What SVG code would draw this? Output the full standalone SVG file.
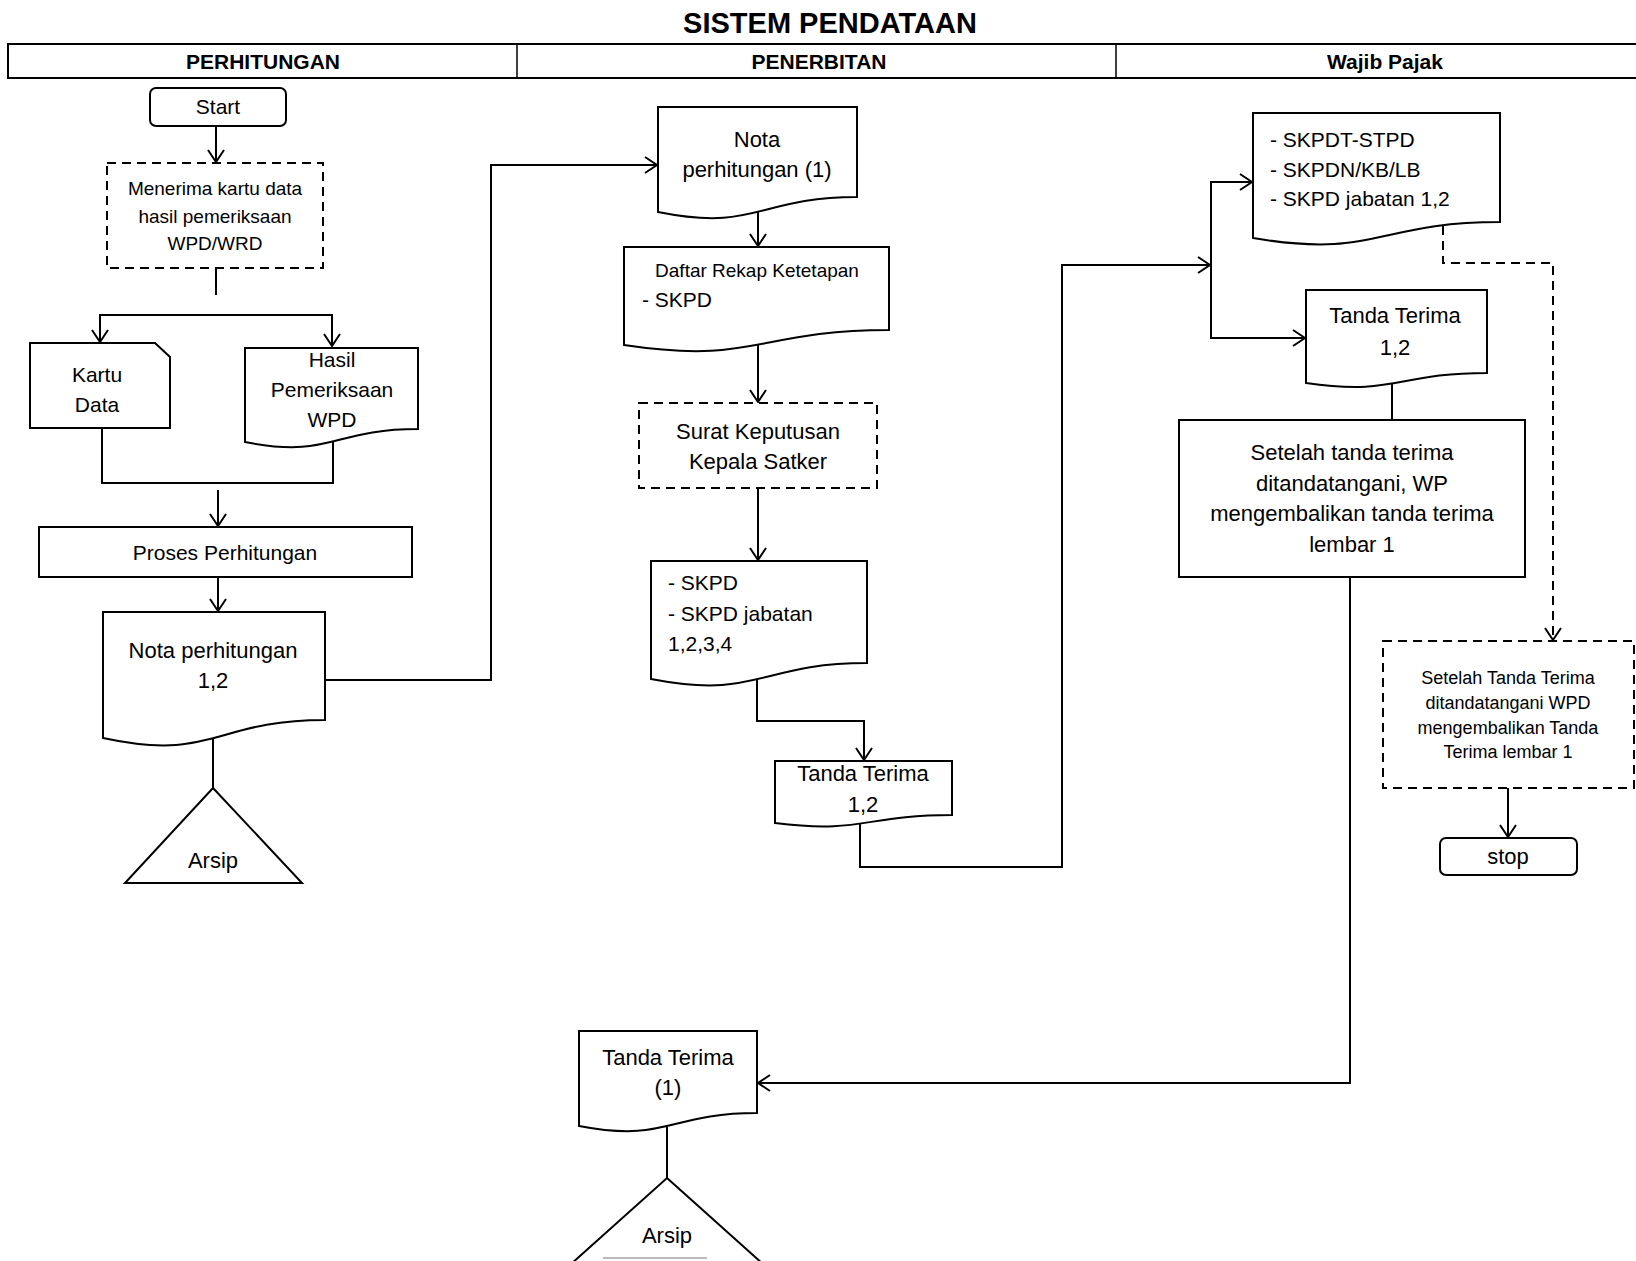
<svg xmlns="http://www.w3.org/2000/svg" width="1636" height="1261" viewBox="0 0 1636 1261">
  <style>
    .shape { fill: #fff; stroke: #000; stroke-width: 2; }
    .dash { fill: #fff; stroke: #000; stroke-width: 2; stroke-dasharray: 9 6; }
    .conn { fill: none; stroke: #000; stroke-width: 2; }
    .conn-d { fill: none; stroke: #000; stroke-width: 2; stroke-dasharray: 9 6; }
    text { font-family: "Liberation Sans", Arial, sans-serif; fill: #000; }
    .c { text-anchor: middle; }
    .title { font-size: 29px; font-weight: bold; }
    .hdr { font-size: 21px; font-weight: bold; }
    .t22 { font-size: 22px; }
    .t21 { font-size: 21px; }
    .t19 { font-size: 19px; }
    .t18 { font-size: 18px; }
  </style>
  <defs>
    <marker id="arr" markerUnits="userSpaceOnUse" markerWidth="16" markerHeight="20" viewBox="-14 -10 16 20" refX="0" refY="0" orient="auto">
      <path d="M-12,-8 L0,0 L-12,8" fill="none" stroke="#000" stroke-width="2"/>
    </marker>
  </defs>
  <rect width="1636" height="1261" fill="#fff"/>

  <!-- title and swimlane header -->
  <g id="header">
    <text class="title c" x="830" y="33">SISTEM PENDATAAN</text>
    <rect x="8" y="44" width="1640" height="34" fill="#fff" stroke="#000" stroke-width="2"/>
    <line x1="517" y1="44" x2="517" y2="78" stroke="#000" stroke-width="1.5"/>
    <line x1="1116" y1="44" x2="1116" y2="78" stroke="#000" stroke-width="1.5"/>
    <text class="hdr c" x="263" y="69">PERHITUNGAN</text>
    <text class="hdr c" x="819" y="69">PENERBITAN</text>
    <text class="hdr c" x="1385" y="69">Wajib Pajak</text>
  </g>

  <!-- connectors -->
  <g id="connectors">
    <path class="conn" d="M216 126 V162" marker-end="url(#arr)"/>
    <path class="conn" d="M216 268 V295"/>
    <path class="conn" d="M216 315 H100 V342" marker-end="url(#arr)"/>
    <path class="conn" d="M216 315 H332 V346" marker-end="url(#arr)"/>
    <path class="conn" d="M102 428 V483 H333 V442"/>
    <path class="conn" d="M218 490 V526" marker-end="url(#arr)"/>
    <path class="conn" d="M218 577 V611" marker-end="url(#arr)"/>
    <path class="conn" d="M325 680 H491 V165 H657" marker-end="url(#arr)"/>
    <path class="conn" d="M213 738 V788"/>
    <path class="conn" d="M758 212 V246" marker-end="url(#arr)"/>
    <path class="conn" d="M758 345 V402" marker-end="url(#arr)"/>
    <path class="conn" d="M758 488 V560" marker-end="url(#arr)"/>
    <path class="conn" d="M757 679 V721 H864 V760" marker-end="url(#arr)"/>
    <path class="conn" d="M860 823 V867 H1062 V265 H1210" marker-end="url(#arr)"/>
    <path class="conn" d="M1211 265 V182 H1252" marker-end="url(#arr)"/>
    <path class="conn" d="M1211 265 V338 H1305" marker-end="url(#arr)"/>
    <path class="conn" d="M1392 383 V420"/>
    <path class="conn-d" d="M1443 226 V263 H1553 V640" marker-end="url(#arr)"/>
    <path class="conn" d="M1508 788 V837" marker-end="url(#arr)"/>
    <path class="conn" d="M1350 577 V1083 H758" marker-end="url(#arr)"/>
    <path class="conn" d="M667 1126 V1178"/>
  </g>

  <!-- PERHITUNGAN lane -->
  <g id="start">
    <rect class="shape" x="150" y="88" width="136" height="38" rx="6"/>
    <text class="t21 c" x="218" y="114">Start</text>
  </g>
  <g id="menerima">
    <rect class="dash" x="107" y="163" width="216" height="105"/>
    <text class="t19 c" x="215" y="195">Menerima kartu data</text>
    <text class="t19 c" x="215" y="223">hasil pemeriksaan</text>
    <text class="t19 c" x="215" y="250">WPD/WRD</text>
  </g>
  <g id="kartu-data">
    <path class="shape" d="M30 343 H155 L170 357 V428 H30 Z"/>
    <text class="t21 c" x="97" y="382">Kartu</text>
    <text class="t21 c" x="97" y="412">Data</text>
  </g>
  <g id="hasil-pemeriksaan">
    <path class="shape" d="M245 348 H418 V429 C331.5 429 331.5 459 245 442 Z"/>
    <text class="t21 c" x="332" y="367">Hasil</text>
    <text class="t21 c" x="332" y="397">Pemeriksaan</text>
    <text class="t21 c" x="332" y="427">WPD</text>
  </g>
  <g id="proses-perhitungan">
    <rect class="shape" x="39" y="527" width="373" height="50"/>
    <text class="t21 c" x="225" y="560">Proses Perhitungan</text>
  </g>
  <g id="nota-perhitungan-12">
    <path class="shape" d="M103 612 H325 V720 C214 720 214 762 103 738 Z"/>
    <text class="t22 c" x="213" y="658">Nota perhitungan</text>
    <text class="t22 c" x="213" y="688">1,2</text>
  </g>
  <g id="arsip-1">
    <path class="shape" d="M213 788 L302 883 L125 883 Z"/>
    <text class="t22 c" x="213" y="868">Arsip</text>
  </g>

  <!-- PENERBITAN lane -->
  <g id="nota-perhitungan-1">
    <path class="shape" d="M658 107 H857 V197 C757.5 197 757.5 232 658 212 Z"/>
    <text class="t22 c" x="757" y="147">Nota</text>
    <text class="t22 c" x="757" y="177">perhitungan (1)</text>
  </g>
  <g id="daftar-rekap">
    <path class="shape" d="M624 247 H889 V330 C756.5 330 756.5 365 624 345 Z"/>
    <text class="t19 c" x="757" y="277">Daftar Rekap Ketetapan</text>
    <text class="t21" x="642" y="307">- SKPD</text>
  </g>
  <g id="surat-keputusan">
    <rect class="dash" x="639" y="403" width="238" height="85"/>
    <text class="t22 c" x="758" y="439">Surat Keputusan</text>
    <text class="t22 c" x="758" y="469">Kepala Satker</text>
  </g>
  <g id="skpd">
    <path class="shape" d="M651 561 H867 V663 C759 663 759 700 651 679 Z"/>
    <text class="t21" x="668" y="590">- SKPD</text>
    <text class="t21" x="668" y="621">- SKPD jabatan</text>
    <text class="t21" x="668" y="651">1,2,3,4</text>
  </g>
  <g id="tanda-terima-12-a">
    <path class="shape" d="M775 761 H952 V815 C863.5 815 863.5 834 775 823 Z"/>
    <text class="t22 c" x="863" y="781">Tanda Terima</text>
    <text class="t22 c" x="863" y="812">1,2</text>
  </g>
  <g id="tanda-terima-1">
    <path class="shape" d="M579 1031 H757 V1113 C668 1113 668 1143 579 1126 Z"/>
    <text class="t22 c" x="668" y="1065">Tanda Terima</text>
    <text class="t22 c" x="668" y="1095">(1)</text>
  </g>
  <g id="arsip-2">
    <path class="shape" d="M667 1178 L773 1273 L561 1273 Z"/>
    <text class="t22 c" x="667" y="1243">Arsip</text>
    <line x1="603" y1="1258" x2="707" y2="1258" stroke="#bbb" stroke-width="2"/>
  </g>

  <!-- Wajib Pajak lane -->
  <g id="skpdt-stpd">
    <path class="shape" d="M1253 113 H1500 V222 C1376.5 222 1376.5 259 1253 238 Z"/>
    <text class="t21" x="1270" y="147">- SKPDT-STPD</text>
    <text class="t21" x="1270" y="177">- SKPDN/KB/LB</text>
    <text class="t21" x="1270" y="206">- SKPD jabatan 1,2</text>
  </g>
  <g id="tanda-terima-12-b">
    <path class="shape" d="M1306 290 H1487 V373 C1396.5 373 1396.5 396 1306 383 Z"/>
    <text class="t22 c" x="1395" y="323">Tanda Terima</text>
    <text class="t22 c" x="1395" y="355">1,2</text>
  </g>
  <g id="setelah-wp">
    <rect class="shape" x="1179" y="420" width="346" height="157"/>
    <text class="t22 c" x="1352" y="460">Setelah tanda terima</text>
    <text class="t22 c" x="1352" y="491">ditandatangani, WP</text>
    <text class="t22 c" x="1352" y="521">mengembalikan tanda terima</text>
    <text class="t22 c" x="1352" y="552">lembar 1</text>
  </g>
  <g id="setelah-wpd">
    <rect class="dash" x="1383" y="641" width="251" height="147"/>
    <text class="t18 c" x="1508" y="684">Setelah Tanda Terima</text>
    <text class="t18 c" x="1508" y="709">ditandatangani WPD</text>
    <text class="t18 c" x="1508" y="734">mengembalikan Tanda</text>
    <text class="t18 c" x="1508" y="758">Terima lembar 1</text>
  </g>
  <g id="stop">
    <rect class="shape" x="1440" y="838" width="137" height="37" rx="6"/>
    <text class="t22 c" x="1508" y="864">stop</text>
  </g>
</svg>
